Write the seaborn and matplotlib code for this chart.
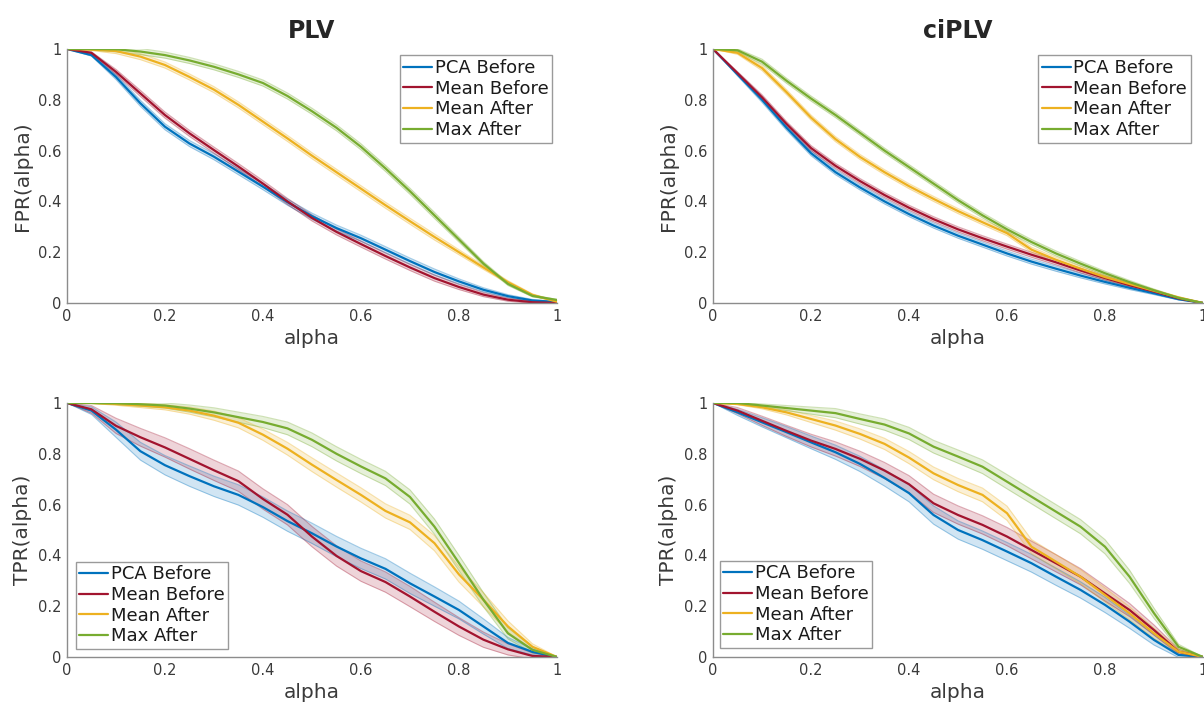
import numpy as np
import pandas as pd
import matplotlib
matplotlib.use('Agg')
import matplotlib.pyplot as plt
import seaborn as sns
from matplotlib.lines import Line2D
from matplotlib.ticker import FuncFormatter

sns.set_theme(style="white")
plt.rcParams['font.family'] = ['DejaVu Sans']

alpha = [0.00, 0.05, 0.10, 0.15, 0.20, 0.25, 0.30, 0.35, 0.40, 0.45, 0.50,
         0.55, 0.60, 0.65, 0.70, 0.75, 0.80, 0.85, 0.90, 0.95, 1.00]
methods = ['PCA Before', 'Mean Before', 'Mean After', 'Max After']
colors = ['#0072BD', '#A2142F', '#EDB120', '#77AC30']

# PLV - FPR
plv_fpr_pca = [1.0, 0.976, 0.89, 0.786, 0.694, 0.628, 0.576, 0.517, 0.458, 0.397, 0.342,
               0.295, 0.255, 0.21, 0.165, 0.122, 0.085, 0.052, 0.027, 0.01, 0.004]
plv_fpr_meanb = [1.0, 0.985, 0.91, 0.825, 0.74, 0.668, 0.602, 0.537, 0.47, 0.40, 0.335,
                 0.28, 0.232, 0.185, 0.14, 0.098, 0.063, 0.033, 0.013, 0.003, 0.0]
plv_fpr_meana = [1.0, 0.998, 0.992, 0.97, 0.937, 0.89, 0.84, 0.78, 0.714, 0.648, 0.58,
                 0.515, 0.45, 0.385, 0.322, 0.26, 0.2, 0.14, 0.082, 0.032, 0.005]
plv_fpr_maxa = [1.0, 1.0, 0.999, 0.99, 0.976, 0.955, 0.93, 0.9, 0.866, 0.815, 0.755,
                0.69, 0.615, 0.53, 0.44, 0.345, 0.25, 0.155, 0.075, 0.028, 0.012]
plv_fpr_band = [0.0, 0.004, 0.01, 0.012, 0.012, 0.012, 0.012, 0.012, 0.012, 0.012, 0.012,
                0.012, 0.012, 0.012, 0.012, 0.012, 0.01, 0.008, 0.006, 0.004, 0.002]

# ciPLV - FPR
ciplv_fpr_pca = [1.0, 0.9, 0.8, 0.69, 0.59, 0.515, 0.455, 0.40, 0.35, 0.305, 0.265,
                 0.23, 0.195, 0.163, 0.135, 0.108, 0.083, 0.06, 0.038, 0.015, 0.0]
ciplv_fpr_meanb = [1.0, 0.905, 0.81, 0.705, 0.61, 0.54, 0.48, 0.425, 0.375, 0.33, 0.29,
                   0.255, 0.222, 0.19, 0.16, 0.128, 0.098, 0.07, 0.045, 0.018, 0.0]
ciplv_fpr_meana = [1.0, 0.985, 0.925, 0.83, 0.73, 0.645, 0.575, 0.515, 0.46, 0.41, 0.362,
                   0.318, 0.275, 0.21, 0.17, 0.135, 0.102, 0.075, 0.048, 0.022, 0.0]
ciplv_fpr_maxa = [1.0, 0.995, 0.95, 0.875, 0.805, 0.74, 0.67, 0.60, 0.535, 0.47, 0.405,
                  0.345, 0.29, 0.24, 0.195, 0.155, 0.117, 0.082, 0.05, 0.02, 0.0]
ciplv_fpr_band = [0.0, 0.006, 0.01, 0.01, 0.01, 0.01, 0.01, 0.01, 0.01, 0.01, 0.01,
                  0.01, 0.01, 0.01, 0.01, 0.009, 0.008, 0.007, 0.005, 0.003, 0.0]

# PLV - TPR
plv_tpr_pca = [1.0, 0.97, 0.895, 0.81, 0.755, 0.712, 0.672, 0.638, 0.59, 0.535, 0.487,
               0.435, 0.388, 0.347, 0.29, 0.238, 0.185, 0.12, 0.055, 0.02, 0.0]
plv_tpr_meanb = [1.0, 0.975, 0.91, 0.865, 0.825, 0.78, 0.735, 0.692, 0.622, 0.56, 0.474,
                 0.398, 0.338, 0.295, 0.238, 0.178, 0.12, 0.068, 0.03, 0.004, 0.0]
plv_tpr_meana = [1.0, 1.0, 0.996, 0.99, 0.983, 0.97, 0.95, 0.922, 0.875, 0.82, 0.757,
                 0.697, 0.638, 0.575, 0.53, 0.448, 0.325, 0.225, 0.12, 0.04, 0.0]
plv_tpr_maxa = [1.0, 1.0, 0.999, 0.995, 0.99, 0.978, 0.963, 0.944, 0.925, 0.9, 0.855,
                0.8, 0.75, 0.703, 0.63, 0.513, 0.37, 0.225, 0.093, 0.028, 0.0]
plv_tpr_band_before = [0.0, 0.015, 0.03, 0.035, 0.038, 0.04, 0.04, 0.04, 0.04, 0.04, 0.04,
                       0.04, 0.04, 0.04, 0.04, 0.038, 0.035, 0.03, 0.022, 0.012, 0.0]
plv_tpr_band_after = [0.0, 0.002, 0.005, 0.008, 0.01, 0.014, 0.018, 0.02, 0.022, 0.025, 0.027,
                      0.028, 0.028, 0.028, 0.028, 0.03, 0.03, 0.028, 0.022, 0.012, 0.0]

# ciPLV - TPR
ciplv_tpr_pca = [1.0, 0.963, 0.924, 0.885, 0.845, 0.806, 0.76, 0.705, 0.645, 0.559, 0.5,
                 0.46, 0.415, 0.369, 0.316, 0.264, 0.205, 0.139, 0.067, 0.008, 0.0]
ciplv_tpr_meanb = [1.0, 0.97, 0.93, 0.89, 0.852, 0.819, 0.78, 0.734, 0.68, 0.605, 0.559,
                   0.52, 0.474, 0.421, 0.369, 0.316, 0.25, 0.185, 0.106, 0.021, 0.0]
ciplv_tpr_meana = [1.0, 0.996, 0.983, 0.963, 0.937, 0.911, 0.878, 0.839, 0.785, 0.723, 0.677,
                   0.638, 0.566, 0.434, 0.375, 0.316, 0.244, 0.172, 0.093, 0.021, 0.0]
ciplv_tpr_maxa = [1.0, 1.0, 0.99, 0.98, 0.97, 0.96, 0.937, 0.915, 0.88, 0.828, 0.789,
                  0.749, 0.69, 0.631, 0.572, 0.513, 0.434, 0.316, 0.172, 0.04, 0.0]
ciplv_tpr_band_before = [0.0, 0.012, 0.018, 0.022, 0.025, 0.028, 0.03, 0.032, 0.034, 0.036, 0.036,
                         0.036, 0.036, 0.035, 0.034, 0.032, 0.03, 0.026, 0.02, 0.01, 0.0]
ciplv_tpr_band_after = [0.0, 0.003, 0.006, 0.01, 0.014, 0.018, 0.02, 0.022, 0.024, 0.025, 0.026,
                        0.027, 0.028, 0.028, 0.028, 0.028, 0.028, 0.026, 0.02, 0.01, 0.0]

panels = [
    dict(rect=[0.0556, 0.5696, 0.407, 0.3608], title='PLV', ylabel='FPR(alpha)',
         series=[plv_fpr_pca, plv_fpr_meanb, plv_fpr_meana, plv_fpr_maxa],
         bands=[plv_fpr_band] * 4, loc='upper right', anchor=(0.99, 0.975)),
    dict(rect=[0.5922, 0.5696, 0.407, 0.3608], title='ciPLV', ylabel='FPR(alpha)',
         series=[ciplv_fpr_pca, ciplv_fpr_meanb, ciplv_fpr_meana, ciplv_fpr_maxa],
         bands=[ciplv_fpr_band] * 4, loc='upper right', anchor=(0.975, 0.975)),
    dict(rect=[0.0556, 0.0668, 0.407, 0.3608], title=None, ylabel='TPR(alpha)',
         series=[plv_tpr_pca, plv_tpr_meanb, plv_tpr_meana, plv_tpr_maxa],
         bands=[plv_tpr_band_before, plv_tpr_band_before, plv_tpr_band_after, plv_tpr_band_after],
         loc='lower left', anchor=(0.018, 0.031)),
    dict(rect=[0.5922, 0.0668, 0.407, 0.3608], title=None, ylabel='TPR(alpha)',
         series=[ciplv_tpr_pca, ciplv_tpr_meanb, ciplv_tpr_meana, ciplv_tpr_maxa],
         bands=[ciplv_tpr_band_before, ciplv_tpr_band_before, ciplv_tpr_band_after, ciplv_tpr_band_after],
         loc='lower left', anchor=(0.014, 0.035)),
]

fig = plt.figure(figsize=(12.04, 7.04), dpi=100)
fmt = FuncFormatter(lambda v, p: f'{v:g}')

for p in panels:
    ax = fig.add_axes(p['rect'])
    x = np.array(alpha)
    # shaded error bands
    for vals, band, c in zip(p['series'], p['bands'], colors):
        y = np.array(vals)
        b = np.array(band)
        ax.fill_between(x, y - b, y + b, color=c, alpha=0.18, lw=0)
        ax.plot(x, y - b, color=c, alpha=0.35, lw=0.8)
        ax.plot(x, y + b, color=c, alpha=0.35, lw=0.8)
    df = pd.DataFrame({
        'alpha': alpha * 4,
        'value': sum(p['series'], []),
        'method': np.repeat(methods, len(alpha)),
    })
    sns.lineplot(data=df, x='alpha', y='value', hue='method', hue_order=methods,
                 palette=colors, linewidth=1.6, legend=False, ax=ax)
    ax.set_xlim(0, 1)
    ax.set_ylim(0, 1)
    ax.set_xticks([0, 0.2, 0.4, 0.6, 0.8, 1])
    ax.set_yticks([0, 0.2, 0.4, 0.6, 0.8, 1])
    ax.xaxis.set_major_formatter(fmt)
    ax.yaxis.set_major_formatter(fmt)
    ax.tick_params(direction='in', length=4, width=0.8, color='#8c8c8c',
                   labelcolor='#3a3a3a', labelsize=10.5, pad=4)
    for side in ['top', 'right']:
        ax.spines[side].set_visible(False)
    for side in ['left', 'bottom']:
        ax.spines[side].set_color('#8c8c8c')
        ax.spines[side].set_linewidth(1.0)
    ax.set_xlabel('alpha', fontsize=14.5, color='#3a3a3a', labelpad=4)
    ax.set_ylabel(p['ylabel'], fontsize=14.5, color='#3a3a3a', labelpad=4)
    if p['title']:
        ax.set_title(p['title'], fontsize=17, fontweight='bold', pad=8)
    handles = [Line2D([0], [0], color=c, lw=1.6) for c in colors]
    leg = ax.legend(handles, methods, loc=p['loc'], bbox_to_anchor=p['anchor'],
                    fontsize=13, frameon=True, fancybox=False, framealpha=1,
                    handlelength=1.6, handletextpad=0.15, labelspacing=0.15,
                    borderpad=0.2, borderaxespad=0)
    leg.get_frame().set_edgecolor('#9a9a9a')
    leg.get_frame().set_linewidth(1.0)
    for t in leg.get_texts():
        t.set_color('#1a1a1a')

fig.savefig('out.png', dpi=100)
